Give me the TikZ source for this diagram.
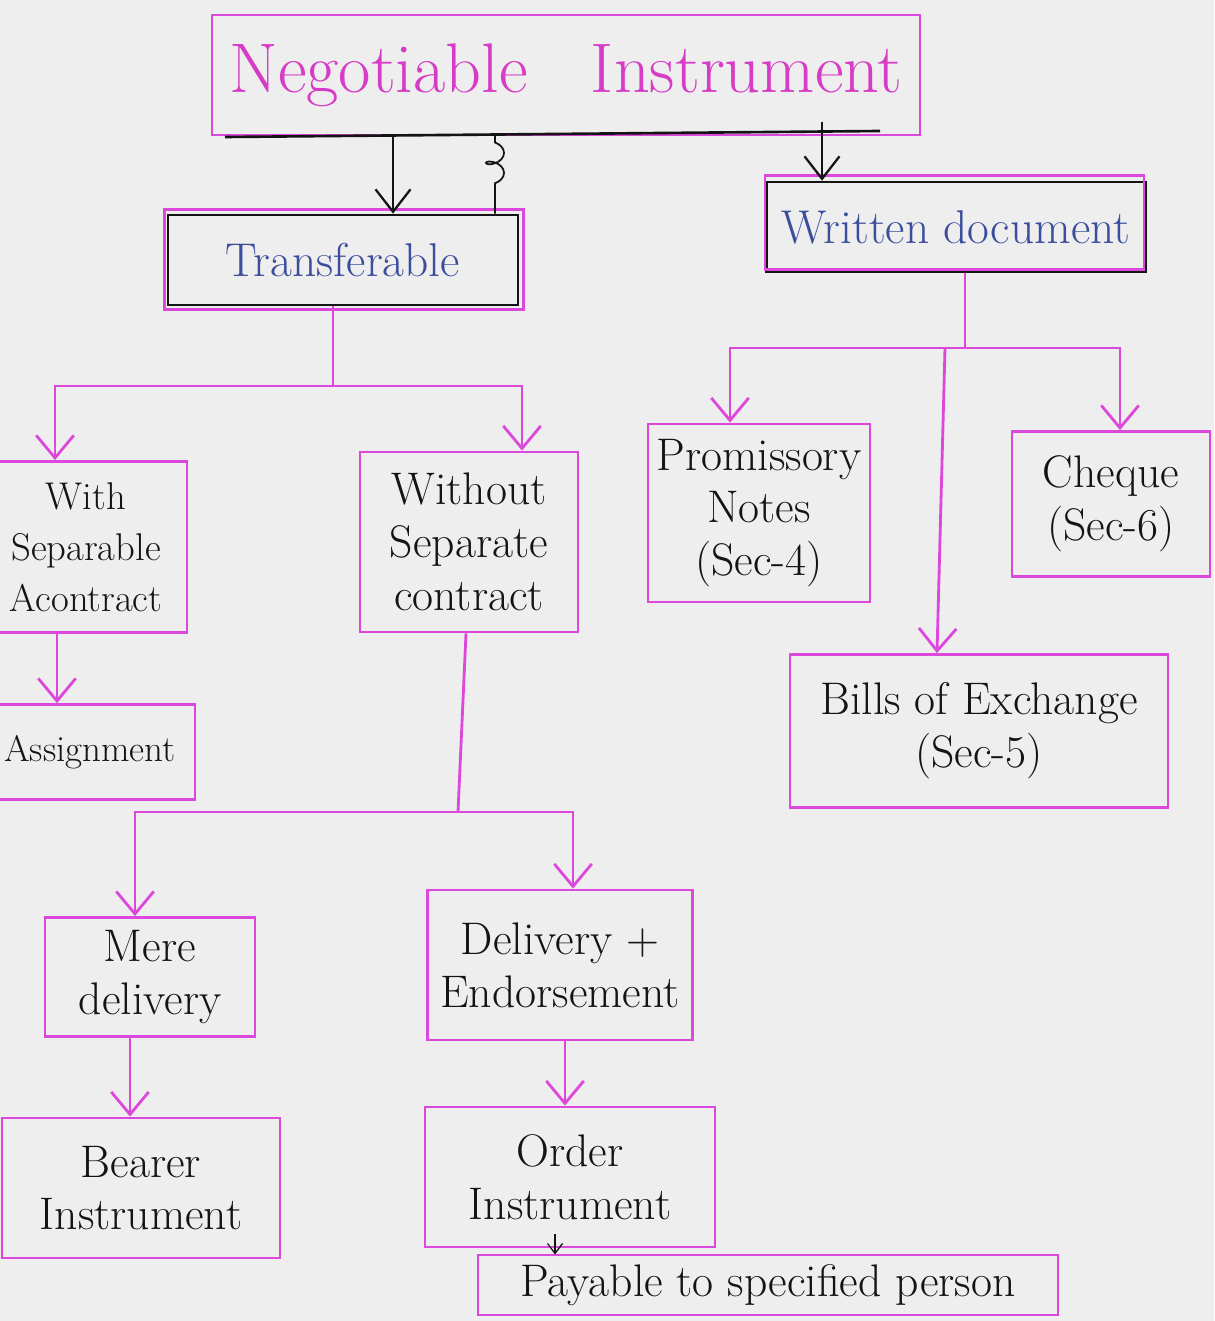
\documentclass[tikz,border=0pt]{standalone}
\usetikzlibrary{arrows.meta,decorations.pathmorphing}
\definecolor{bg}{HTML}{EEEEEE}
\definecolor{mag}{HTML}{DD48DC}
\definecolor{magtxt}{HTML}{D63CC6}
\definecolor{bluetxt}{HTML}{3B4E9C}
\definecolor{ink}{HTML}{141414}
\begin{document}
\begin{tikzpicture}[x=0.02cm,y=-0.02cm,
  sz/.style 2 args={minimum width=#1*0.02cm,minimum height=#2*0.02cm,inner sep=0pt},
  mbox/.style={draw=mag,line width=1.6pt,align=center,text=ink,
    font=\fontsize{26}{30}\selectfont},
  bbox/.style={draw=ink,line width=1.5pt,align=center,text=bluetxt,
    font=\fontsize{27}{30}\selectfont},
  pline/.style={draw=mag,line width=1.6pt},
  parrow/.style={pline,-{Straight Barb[length=4.5mm,width=7.5mm,line width=1.6pt]}},
  barrow/.style={draw=ink,line width=1.3pt,-{Straight Barb[length=4.5mm,width=7mm,line width=1.3pt]}},
  sarrow/.style={draw=ink,line width=0.7pt,-{Straight Barb[length=2mm,width=3mm]}}
]
\fill[bg] (0,0) rectangle (1214,1321);
\useasboundingbox (0,0) rectangle (1214,1321);

% nodes
\node[mbox,sz={708}{120},text=magtxt,font=\fontsize{40}{46}\selectfont] (ni) at (566,75) {Negotiable\hspace{0.9em}Instrument};
\node[bbox,sz={350}{90}] (tr) at (343,260) {Transferable};
\node[bbox,sz={379}{90}] (wd) at (956,227) {Written document};
\node[mbox,sz={202}{171},font=\fontsize{22}{29}\selectfont] (with) at (86,547) {With\\Separable\\Acontract};
\node[mbox,sz={210}{95},font=\fontsize{21}{26}\selectfont] (asg) at (90,752) {Assignment};
\node[mbox,sz={218}{180}] (wo) at (469,542) {Without\\Separate\\contract};
\node[mbox,sz={222}{178}] (pn) at (759,513) {Promissory\\Notes\\(Sec-4)};
\node[mbox,sz={198}{145}] (ch) at (1111,504) {Cheque\\(Sec-6)};
\node[mbox,sz={378}{153}] (bx) at (979,731) {Bills of Exchange\\(Sec-5)};
\node[mbox,sz={210}{119}] (mere) at (150,977) {Mere\\delivery};
\node[mbox,sz={265}{150}] (de) at (560,965) {Delivery +\\Endorsement};
\node[mbox,sz={278}{140}] (bearer) at (141,1188) {Bearer\\Instrument};
\node[mbox,sz={290}{140}] (order) at (570,1177) {Order\\Instrument};
\node[mbox,line width=0.6pt,sz={580}{60}] (pay) at (768,1285) {Payable to specified person};

% overlay magenta outline on the black boxes
\draw[mag,line width=1.4pt] ([shift={(-2,-4)}]tr.north west) rectangle ([shift={(4,3)}]tr.south east);
\draw[mag,line width=1.4pt] ([shift={(0,-5)}]wd.north west) rectangle ([shift={(-3,-4)}]wd.south east);

% top black bar and connectors
\coordinate (barL) at (225,137);
\coordinate (barR) at (880,131);
\coordinate (oi) at (555,1234);
\draw[ink,line width=1.5pt] (barL) -- (barR);
\draw[barrow] (393,136) -- (tr.north -| 393,0);
\draw[ink,line width=1pt,decorate,decoration={coil,aspect=0.6,amplitude=1.8mm,segment length=4mm,pre length=1.5mm,post length=2.5mm}] (495,135) -- (tr.north -| 495,0);
\draw[barrow] (822,122) -- (wd.north -| 822,0);

% Transferable subtree
\draw[pline] (tr.south -| 333,0) -- (333,386);
\draw[parrow] (333,386) -| (with.north -| 55,0);
\draw[parrow] (333,386) -| (wo.north -| 522,0);
\draw[parrow] (with.south -| 57,0) -- (asg.north -| 57,0);
\draw[pline] (wo.south -| 466,0) -- (458,812);
\draw[parrow] (458,812) -| (mere.north -| 135,0);
\draw[parrow] (458,812) -| (de.north -| 573,0);
\draw[parrow] (mere.south -| 130,0) -- (bearer.north -| 130,0);
\draw[parrow] (de.south -| 565,0) -- (order.north -| 565,0);
\draw[sarrow] (oi) -- (pay.north -| oi);

% Written document subtree
\draw[pline] (wd.south -| 965,0) -- (965,348);
\draw[parrow] (965,348) -| (pn.north -| 730,0);
\draw[parrow] (965,348) -| (ch.north -| 1120,0);
\draw[parrow] (945,348) -- (bx.north -| 937,0);
\end{tikzpicture}
\end{document}
